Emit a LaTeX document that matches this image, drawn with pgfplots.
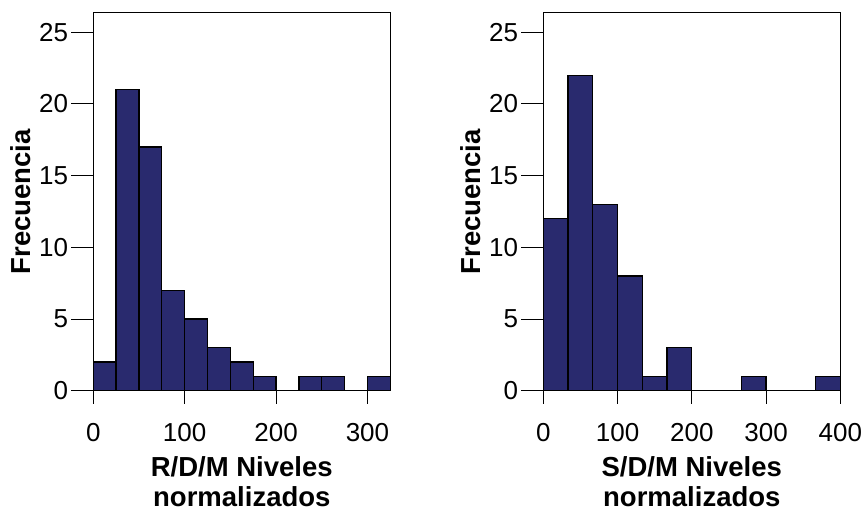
\documentclass[border=0pt]{standalone}
\usepackage{pgfplots}
\pgfplotsset{compat=1.18}
\usepackage{fontspec}
\setmainfont{Liberation Sans}
\definecolor{barnavy}{RGB}{41,42,110}
\pgfplotsset{
  histo/.style={
    scale only axis,
    width=297pt, height=378pt,
    ymin=0, ymax=26.36,
    ytick={0,5,10,15,20,25},
    axis line style={line width=1pt, black},
    tick align=outside,
    xtick pos=bottom, ytick pos=left,
    major tick length=13pt,
    tick style={line width=1pt, black},
    ytick style={draw=none},
    /pgf/number format/assume math mode=true,
    ticklabel style={font=\fontsize{26}{30}\selectfont, inner sep=0pt},
    xticklabel style={anchor=north, yshift=-19pt},
    yticklabel style={anchor=east, xshift=-12pt},
    every axis y label/.style={at={(axis description cs:0,0.5)}, xshift=-72.5pt, rotate=90, anchor=center, font=\fontsize{27.5}{31}\selectfont\bfseries, inner sep=0pt},
    every axis x label/.style={at={(axis description cs:0.5,0)}, anchor=north, yshift=-66pt, align=center, font=\fontsize{27.5}{30}\selectfont\bfseries, inner sep=0pt},
    ylabel={Frecuencia},
  },
  yticks/.style={
    scale only axis,
    width=297pt, height=378pt,
    ymin=0, ymax=26.36,
    ytick={0,5,10,15,20,25}, yticklabels={},
    xtick=\empty,
    axis line style={line width=1pt, black},
    tick align=outside,
    ytick pos=left,
    major tick length=22pt,
    tick style={line width=1pt, black},
  }
}
\begin{document}
\begin{tikzpicture}[x=1pt,y=1pt]
\path[use as bounding box] (0,0) rectangle (867,512);
\begin{axis}[histo, at={(93.3pt,121.3pt)}, anchor=south west,
  xmin=0, xmax=325, xtick={0,100,200,300},
  xlabel={R/D/M Niveles\\normalizados}]
\addplot[ybar interval, fill=barnavy, draw=black, line width=1.3pt] coordinates {
(0,2) (25,21) (50,17) (75,7) (100,5) (125,3) (150,2) (175,1) (200,0) (225,1) (250,1) (275,0) (300,1) (325,1)};
\end{axis}
\begin{axis}[yticks, at={(93.3pt,121.3pt)}, anchor=south west, xmin=0, xmax=325]
\end{axis}
\begin{axis}[histo, at={(543.3pt,121.3pt)}, anchor=south west,
  xmin=0, xmax=400, xtick={0,100,200,300,400},
  xlabel={S/D/M Niveles\\normalizados}]
\addplot[ybar interval, fill=barnavy, draw=black, line width=1.3pt] coordinates {
(0,12) (33.333,22) (66.667,13) (100,8) (133.333,1) (166.667,3) (200,0) (233.333,0) (266.667,1) (300,0) (333.333,0) (366.667,1) (400,1)};
\end{axis}
\begin{axis}[yticks, at={(543.3pt,121.3pt)}, anchor=south west, xmin=0, xmax=400]
\end{axis}
\end{tikzpicture}
\end{document}
